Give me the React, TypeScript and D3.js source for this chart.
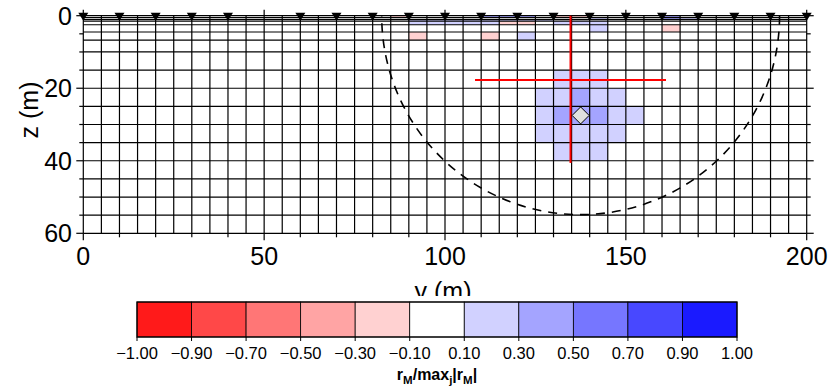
import React from 'react'
import * as d3 from 'd3'

// model grid (m)
const xEdges = d3.range(0, 201, 5)
const zEdges = [0, 0.5, 1, 1.5, 2.5, 4.5, 6.75, 10, 15, 20, 25, 30, 35, 40, 45, 50, 55, 60]

// resolution cells that are not white: [x left (m), layer index, value]
const cells: [number, number, number][] = [
  [85, 0, -0.2], [110, 0, 0.4], [115, 0, 0.4], [120, 0, 0.4], [130, 0, -0.2], [135, 0, -0.2], [160, 0, 0.4],
  [140, 1, 0.2], [160, 1, 0.4], [165, 1, 0.2],
  [90, 2, 0.2], [95, 2, 0.2], [100, 2, 0.2], [105, 2, 0.2], [110, 2, 0.2], [115, 2, 0.2], [120, 2, 0.2], [125, 2, 0.2],
  [90, 3, 0.2], [95, 3, 0.2], [100, 3, 0.2], [105, 3, 0.2], [110, 3, 0.2], [115, 3, -0.2], [120, 3, -0.2],
  [130, 3, 0.2], [135, 3, 0.2], [140, 3, 0.2],
  [140, 4, 0.2], [160, 4, -0.2],
  [90, 5, -0.2], [110, 5, -0.2], [120, 5, 0.2],
  // 15-20 m
  [130, 8, 0.2], [135, 8, 0.2], [140, 8, 0.2],
  // 20-25 m
  [125, 9, 0.2], [130, 9, 0.2], [135, 9, 0.4], [140, 9, 0.2], [145, 9, 0.2],
  // 25-30 m
  [125, 10, 0.2], [130, 10, 0.4], [135, 10, 0.4], [140, 10, 0.4], [145, 10, 0.2], [150, 10, 0.2],
  // 30-35 m
  [125, 11, 0.2], [130, 11, 0.2], [135, 11, 0.2], [140, 11, 0.2], [145, 11, 0.2],
  // 35-40 m
  [130, 12, 0.2], [135, 12, 0.2], [140, 12, 0.2],
]

const electrodes = [0, 10, 20, 30, 40, 60, 70, 80, 90, 100, 110, 120, 130, 140, 150, 160, 170, 180, 190, 200]
const xTicks = [0, 50, 100, 150, 200]
const zTicks = [0, 20, 40, 60]

// colour bar
const levels = [-1, -0.9, -0.7, -0.5, -0.3, -0.1, 0.1, 0.3, 0.5, 0.7, 0.9, 1]
const levelColors = ['#ff1a1a', '#ff4848', '#ff7676', '#ffa4a4', '#ffd1d1', '#ffffff',
  '#d1d1ff', '#a4a4ff', '#7676ff', '#4848ff', '#1a1aff']

// target cell and its resolution lengths
const target = { x: 137.5, z: 27.5 }
const cross = { x: 134.7, z: 17.7, halfX: 26.4, halfZ: 22.9 }
const circle = { x: 137.5, r: 55 }

const FONT = 'Liberation Sans, Arial, sans-serif'

export default function App() {
  const x = d3.scaleLinear().domain([0, 200]).range([83.3, 806.7])
  const z = d3.scaleLinear().domain([0, 60]).range([15.7, 233.3])
  const color = d3.scaleThreshold<number, string>().domain(levels.slice(1, -1)).range(levelColors)
  const cb = d3.scalePoint<number>().domain(levels).range([137, 737])

  const arc = d3.path()
  const r = x(circle.r) - x(0)
  arc.arc(x(circle.x), z(0), r, 0, Math.PI, false)

  const tri = (cx: number) => `M${cx - 5},${z(0) - 3}L${cx + 5},${z(0) - 3}L${cx},${z(0) + 5}Z`

  return (
    <svg width={829} height={388} style={{ display: 'block', position: 'absolute', left: 0, top: 0 }} fontFamily={FONT}>
      <rect width={829} height={388} fill="#fff" />
      {cells.map(([x0, li, v], i) => (
        <rect key={i} x={x(x0)} y={z(zEdges[li])} width={x(x0 + 5) - x(x0)}
          height={z(zEdges[li + 1]) - z(zEdges[li])} fill={color(v)} />
      ))}
      <g stroke="#000" strokeWidth={1.2}>
        {xEdges.map(e => <line key={'v' + e} x1={x(e)} x2={x(e)} y1={z(0)} y2={z(60)} />)}
        {zEdges.map(e => <line key={'h' + e} x1={x(0)} x2={x(200)} y1={z(e)} y2={z(e)} />)}
      </g>
      {/* ticks */}
      <g stroke="#000" strokeWidth={1.2}>
        {d3.range(0, 201, 10).map(t => (
          <line key={'bx' + t} x1={x(t)} x2={x(t)} y1={z(60)} y2={z(60) + (t % 50 === 0 ? 7 : 4)} />
        ))}
        {xTicks.map(t => <line key={'tx' + t} x1={x(t)} x2={x(t)} y1={z(0)} y2={z(0) - 6} />)}
        {d3.range(0, 61, 5).map(t => (
          <g key={'lz' + t}>
            <line x1={x(0)} x2={x(0) - (t % 20 === 0 ? 7 : 4)} y1={z(t)} y2={z(t)} />
            <line x1={x(200)} x2={x(200) + (t % 20 === 0 ? 7 : 4)} y1={z(t)} y2={z(t)} />
          </g>
        ))}
      </g>
      <g fontSize={25} fill="#000">
        {xTicks.map(t => <text key={t} x={x(t)} y={265} textAnchor="middle">{t}</text>)}
        {zTicks.map(t => <text key={t} x={72} y={z(t) + 9} textAnchor="end">{t}</text>)}
        <text transform={`translate(38,${z(26)}) rotate(-90)`} textAnchor="middle">z (m)</text>
        <text x={443} y={300} textAnchor="middle">y (m)</text>
      </g>
      <path d={arc.toString()} fill="none" stroke="#000" strokeWidth={1.6} strokeDasharray="9,7" />
      <g stroke="#ff0000" strokeWidth={2}>
        <line x1={x(cross.x - cross.halfX)} x2={x(cross.x + cross.halfX)} y1={z(cross.z)} y2={z(cross.z)} />
        <line x1={x(cross.x)} x2={x(cross.x)} y1={z(Math.max(0, cross.z - cross.halfZ))} y2={z(cross.z + cross.halfZ)} />
      </g>
      <path d={`M${x(target.x) - 8.5},${z(target.z)}L${x(target.x)},${z(target.z) - 8.5}L${x(target.x) + 8.5},${z(target.z)}L${x(target.x)},${z(target.z) + 8.5}Z`}
        fill="#e0e0e0" stroke="#000" strokeWidth={1} />
      {electrodes.map(e => <path key={e} d={tri(x(e))} fill="#000" />)}
      {/* colour bar */}
      <rect x={0} y={296} width={829} height={92} fill="#fff" />
      {levelColors.map((c, i) => (
        <rect key={i} x={cb(levels[i])} y={302} width={cb(levels[i + 1])! - cb(levels[i])!} height={35}
          fill={c} stroke="#000" strokeWidth={0.8} />
      ))}
      <rect x={137} y={302} width={600} height={35} fill="none" stroke="#000" strokeWidth={1.2} />
      <g stroke="#000">
        {levels.map(l => <line key={l} x1={cb(l)} x2={cb(l)} y1={337} y2={341} />)}
      </g>
      <g fontSize={16.5} fill="#000" textAnchor="middle">
        {levels.map(l => (
          <text key={l} x={cb(l)} y={359}>{d3.format('.2f')(l).replace('-', '\u2212')}</text>
        ))}
      </g>
      <text x={437} y={380} textAnchor="middle" fontSize={16} fontWeight="bold">
        r<tspan fontSize={11.5} dy={4}>M</tspan><tspan dy={-4}>/max</tspan><tspan fontSize={11.5} dy={4}>j</tspan>
        <tspan dy={-4}>|r</tspan><tspan fontSize={11.5} dy={4}>M</tspan><tspan dy={-4}>|</tspan>
      </text>
    </svg>
  )
}
